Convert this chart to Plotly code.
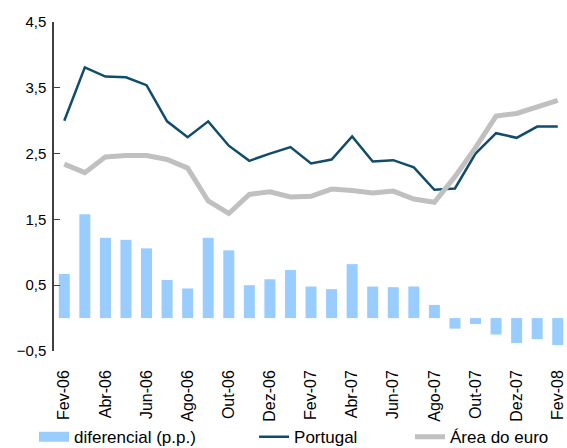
import plotly.graph_objects as go

# months Fev-06 .. Fev-08
months = ['Fev-06', 'Mar-06', 'Abr-06', 'Mai-06', 'Jun-06', 'Jul-06', 'Ago-06', 'Set-06',
          'Out-06', 'Nov-06', 'Dez-06', 'Jan-07', 'Fev-07', 'Mar-07', 'Abr-07', 'Mai-07',
          'Jun-07', 'Jul-07', 'Ago-07', 'Set-07', 'Out-07', 'Nov-07', 'Dez-07', 'Jan-08', 'Fev-08']

portugal = [3.0, 3.81, 3.67, 3.66, 3.54, 2.99, 2.75, 2.99, 2.62, 2.39, 2.50, 2.60, 2.35,
            2.41, 2.76, 2.38, 2.40, 2.29, 1.95, 1.97, 2.50, 2.81, 2.74, 2.91, 2.91]

area_euro = [2.34, 2.21, 2.45, 2.47, 2.47, 2.41, 2.28, 1.78, 1.59, 1.88, 1.92, 1.84, 1.85,
             1.96, 1.94, 1.90, 1.93, 1.81, 1.76, 2.15, 2.59, 3.07, 3.11, 3.21, 3.31]

diferencial = [0.67, 1.58, 1.22, 1.19, 1.06, 0.58, 0.45, 1.22, 1.03, 0.50, 0.59, 0.73, 0.48,
               0.44, 0.82, 0.48, 0.47, 0.48, 0.20, -0.16, -0.09, -0.25, -0.38, -0.32, -0.41]

label_months = months[::2]
tick_pos = [i + 0.5 for i in range(1, len(months) - 1, 2)]

BLUE = '#99CCFF'
DARK = '#0F4C6E'
GREY = '#C0C0C0'
FONT = 'Liberation Sans, Arial, sans-serif'

fig = go.Figure()

fig.add_trace(go.Bar(x=months, y=diferencial, marker_color=BLUE, marker_line_width=0,
                     name='diferencial (p.p.)', showlegend=False, legendgroup='dif'))
# legend stand-in so the key looks like a wide block, as in the original
fig.add_trace(go.Scatter(x=[None], y=[None], mode='lines', line=dict(color=BLUE, width=10),
                         name='diferencial (p.p.)', legendgroup='dif', legend='legend'))
fig.add_trace(go.Scatter(x=months, y=portugal, mode='lines', line=dict(color=DARK, width=2.5),
                         name='Portugal', legend='legend2'))
fig.add_trace(go.Scatter(x=months, y=area_euro, mode='lines', line=dict(color=GREY, width=5),
                         name='Área do euro', legend='legend3'))

leg = dict(orientation='h', xanchor='left', y=-0.262, yanchor='middle',
           font=dict(size=17), bgcolor='rgba(0,0,0,0)')

fig.update_layout(
    width=567, height=448,
    margin=dict(l=54, r=0, t=22, b=97, autoexpand=False),
    paper_bgcolor='white', plot_bgcolor='white',
    font=dict(family=FONT, color='black', size=15),
    separators=', ',
    bargap=0.465,
    showlegend=True,
    legend=dict(leg, x=-0.039),
    legend2=dict(leg, x=0.39),
    legend3=dict(leg, x=0.694),
    xaxis=dict(type='category', range=[-0.5, 24.45], tickmode='array', tickvals=label_months,
               tickangle=-90, tickfont=dict(size=16), ticks='', showline=False,
               showgrid=False, zeroline=False, ticklabelstandoff=15, automargin=False),
    xaxis2=dict(overlaying='x', anchor='free', position=0.1, range=[-0.5, 24.45],
                type='linear', showticklabels=False, showline=True, linecolor='black',
                linewidth=1.5, showgrid=False, zeroline=False, tickmode='array',
                tickvals=tick_pos, ticks='inside', ticklen=5, tickcolor='#666666',
                tickwidth=1.5, automargin=False),
    yaxis=dict(range=[-0.5, 4.5], tick0=-0.5, dtick=1, tickformat='.1f', showgrid=False,
               zeroline=False, showline=True, linecolor='#404040', linewidth=1.5,
               ticks='inside', ticklen=6, tickcolor='#404040', ticklabelstandoff=3,
               automargin=False),
)

# page body has a default 8px margin; drop it so the chart sits at the window corner
fig.write_html("out.html", config={'displayModeBar': False},
               post_script="document.body.style.margin='0';")
